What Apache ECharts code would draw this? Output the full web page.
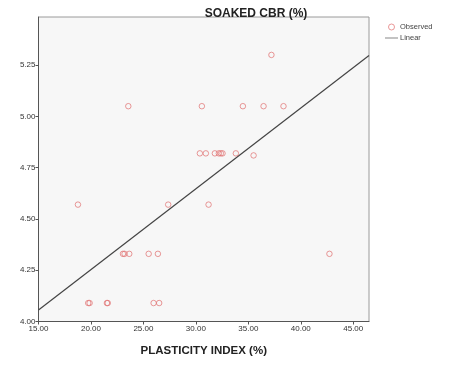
<!DOCTYPE html>
<html><head><meta charset="utf-8">
<script src="https://cdn.jsdelivr.net/npm/echarts@6/dist/echarts.min.js"></script>
<style>html,body{margin:0;padding:0;background:#fff}#c{width:452px;height:366px}</style>
</head><body><div id="c"></div>
<script>
const plasticityIndex = [37.2, 23.56, 30.57, 34.48, 36.45, 38.35,
  30.38, 30.95, 31.81, 32.19, 32.38, 32.54, 33.81, 35.5,
  18.76, 27.36, 31.21,
  23.05, 23.2, 23.65, 25.5, 26.38, 42.73,
  19.74, 19.87, 21.52, 21.6, 25.97, 26.5];
const soakedCBR = [5.30, 5.05, 5.05, 5.05, 5.05, 5.05,
  4.82, 4.82, 4.82, 4.82, 4.82, 4.82, 4.82, 4.81,
  4.57, 4.57, 4.57,
  4.33, 4.33, 4.33, 4.33, 4.33, 4.33,
  4.09, 4.09, 4.09, 4.09, 4.09, 4.09];
const linearX = [15, 46.5];
const linearY = [4.056, 5.297];
const xTicks = [15, 20, 25, 30, 35, 40, 45];
const yTicks = [4.00, 4.25, 4.50, 4.75, 5.00, 5.25];

const chart = echarts.init(document.getElementById('c'), null, {renderer:'canvas'});
const txt = '#333';
const red = '#e07070';
chart.setOption({
  animation: false,
  title: { text: 'SOAKED CBR (%)', left: 251, top: 3, textAlign: 'center',
    textStyle: { fontFamily: 'Liberation Sans', fontSize: 12, fontWeight: 'bold', color: '#222' } },
  legend: {
    left: 380, top: 18, orient: 'vertical', itemGap: 3, itemWidth: 13, itemHeight: 6,
    textStyle: { fontFamily: 'Liberation Sans', fontSize: 7.5, color: '#444', padding: [0,0,0,-3] },
    data: [
      { name: 'Observed', icon: 'circle', itemStyle: { color: 'rgba(0,0,0,0)', borderColor: red, borderWidth: 0.9 } },
      { name: 'Linear', icon: 'path://M0,5L20,5L20,6L0,6Z', itemStyle: { color: '#444', borderWidth: 0 } }
    ]
  },
  grid: { left: 38.5, right: 83, top: 17, bottom: 44.5, show: true,
    backgroundColor: '#f7f7f7', borderColor: '#9a9a9a', borderWidth: 1 },
  xAxis: {
    type: 'value', min: 15, max: 46.5,
    name: 'PLASTICITY INDEX (%)', nameLocation: 'middle', nameGap: 23,
    nameTextStyle: { fontFamily: 'Liberation Sans', fontSize: 11.5, fontWeight: 'bold', color: '#222' },
    axisLine: { show: true, lineStyle: { color: '#555', width: 1 } },
    axisTick: { show: true, length: 3, lineStyle: { color: '#555' }, customValues: xTicks },
    axisLabel: { customValues: xTicks, formatter: v => v.toFixed(2), fontFamily: 'Liberation Sans',
      fontSize: 8, color: txt, margin: 3 },
    splitLine: { show: false }
  },
  yAxis: {
    type: 'value', min: 4, max: 5.485,
    axisLine: { show: true, lineStyle: { color: '#555', width: 1 } },
    axisTick: { show: true, length: 3, lineStyle: { color: '#555' }, customValues: yTicks },
    axisLabel: { customValues: yTicks, formatter: v => v.toFixed(2), fontFamily: 'Liberation Sans',
      fontSize: 8, color: txt, margin: 3 },
    splitLine: { show: false }
  },
  series: [
    { name: 'Observed', type: 'scatter', symbol: 'circle', symbolSize: 5.5,
      itemStyle: { color: 'rgba(0,0,0,0)', borderColor: red, borderWidth: 0.9 },
      data: plasticityIndex.map((x, i) => [x, soakedCBR[i]]), z: 3 },
    { name: 'Linear', type: 'line', symbol: 'none', lineStyle: { color: '#444', width: 1.2 },
      data: linearX.map((x, i) => [x, linearY[i]]), z: 2 }
  ]
});
</script></body></html>
